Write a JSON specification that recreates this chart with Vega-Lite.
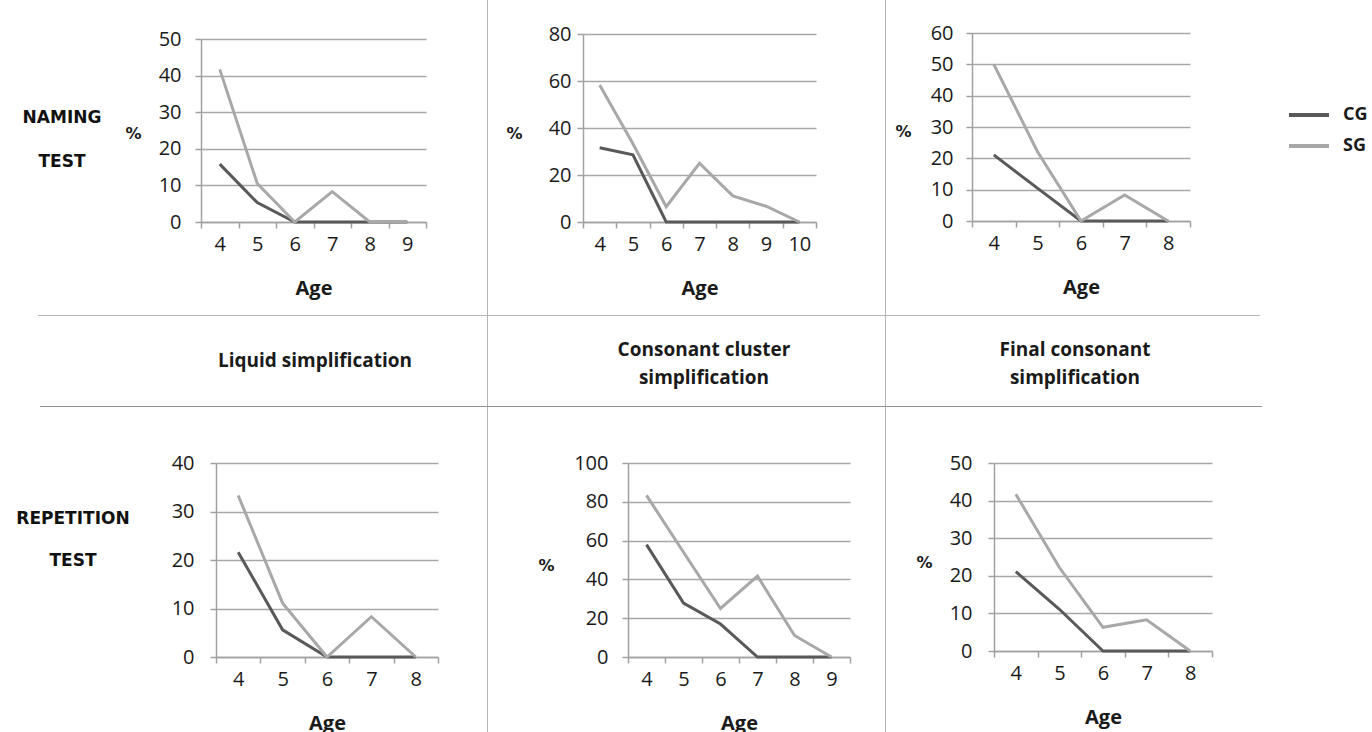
{
  "$schema": "https://vega.github.io/schema/vega-lite/v6.json",
  "padding": 0,
  "background": "white",
  "spacing": 0,
  "config": {
    "view": {"stroke": null},
    "axis": {
      "domainColor": "#a0a0a0", "domainWidth": 1.5,
      "gridColor": "#a8a8a8", "gridWidth": 1.5,
      "tickColor": "#a0a0a0", "tickWidth": 1.5, "tickSize": 6,
      "labelFont": "Open Sans", "labelFontSize": 20, "labelColor": "#1a1a1a",
      "titleFont": "Open Sans", "titleFontWeight": "bold", "titleFontSize": 20, "titleColor": "#1a1a1a"
    },
    "axisX": {"grid": false, "tickBand": "extent", "labelAngle": 0, "labelPadding": 6, "titleY": 66, "titleBaseline": "middle"},
    "axisY": {"grid": true, "titleAngle": 0, "titleFont": "DejaVu Sans", "titleFontSize": 16, "titleAlign": "center", "titleBaseline": "middle"},
    "legend": {
      "orient": "none", "legendX": 1287, "legendY": 93, "title": null,
      "symbolType": "stroke", "symbolSize": 1600, "symbolStrokeWidth": 4,
      "labelFont": "Open Sans", "labelFontWeight": "bold", "labelFontSize": 18, "labelColor": "#1a1a1a",
      "labelOffset": 12, "rowPadding": -9
    }
  },
  "datasets": {
    "pct": [
      {"test": "Naming", "process": "Liquid", "group": "CG", "age": 4, "value": 15.8},
      {"test": "Naming", "process": "Liquid", "group": "CG", "age": 5, "value": 5.3},
      {"test": "Naming", "process": "Liquid", "group": "CG", "age": 6, "value": 0},
      {"test": "Naming", "process": "Liquid", "group": "CG", "age": 7, "value": 0},
      {"test": "Naming", "process": "Liquid", "group": "CG", "age": 8, "value": 0},
      {"test": "Naming", "process": "Liquid", "group": "CG", "age": 9, "value": 0},
      {"test": "Naming", "process": "Liquid", "group": "SG", "age": 4, "value": 41.7},
      {"test": "Naming", "process": "Liquid", "group": "SG", "age": 5, "value": 10.5},
      {"test": "Naming", "process": "Liquid", "group": "SG", "age": 6, "value": 0},
      {"test": "Naming", "process": "Liquid", "group": "SG", "age": 7, "value": 8.3},
      {"test": "Naming", "process": "Liquid", "group": "SG", "age": 8, "value": 0},
      {"test": "Naming", "process": "Liquid", "group": "SG", "age": 9, "value": 0},
      {"test": "Naming", "process": "Cluster", "group": "CG", "age": 4, "value": 31.6},
      {"test": "Naming", "process": "Cluster", "group": "CG", "age": 5, "value": 28.6},
      {"test": "Naming", "process": "Cluster", "group": "CG", "age": 6, "value": 0},
      {"test": "Naming", "process": "Cluster", "group": "CG", "age": 7, "value": 0},
      {"test": "Naming", "process": "Cluster", "group": "CG", "age": 8, "value": 0},
      {"test": "Naming", "process": "Cluster", "group": "CG", "age": 9, "value": 0},
      {"test": "Naming", "process": "Cluster", "group": "CG", "age": 10, "value": 0},
      {"test": "Naming", "process": "Cluster", "group": "SG", "age": 4, "value": 58.3},
      {"test": "Naming", "process": "Cluster", "group": "SG", "age": 5, "value": 33.3},
      {"test": "Naming", "process": "Cluster", "group": "SG", "age": 6, "value": 6.5},
      {"test": "Naming", "process": "Cluster", "group": "SG", "age": 7, "value": 25},
      {"test": "Naming", "process": "Cluster", "group": "SG", "age": 8, "value": 11.1},
      {"test": "Naming", "process": "Cluster", "group": "SG", "age": 9, "value": 6.7},
      {"test": "Naming", "process": "Cluster", "group": "SG", "age": 10, "value": 0},
      {"test": "Naming", "process": "Final", "group": "CG", "age": 4, "value": 21.1},
      {"test": "Naming", "process": "Final", "group": "CG", "age": 5, "value": 10.5},
      {"test": "Naming", "process": "Final", "group": "CG", "age": 6, "value": 0},
      {"test": "Naming", "process": "Final", "group": "CG", "age": 7, "value": 0},
      {"test": "Naming", "process": "Final", "group": "CG", "age": 8, "value": 0},
      {"test": "Naming", "process": "Final", "group": "SG", "age": 4, "value": 50},
      {"test": "Naming", "process": "Final", "group": "SG", "age": 5, "value": 22.2},
      {"test": "Naming", "process": "Final", "group": "SG", "age": 6, "value": 0},
      {"test": "Naming", "process": "Final", "group": "SG", "age": 7, "value": 8.3},
      {"test": "Naming", "process": "Final", "group": "SG", "age": 8, "value": 0},
      {"test": "Repetition", "process": "Liquid", "group": "CG", "age": 4, "value": 21.6},
      {"test": "Repetition", "process": "Liquid", "group": "CG", "age": 5, "value": 5.6},
      {"test": "Repetition", "process": "Liquid", "group": "CG", "age": 6, "value": 0},
      {"test": "Repetition", "process": "Liquid", "group": "CG", "age": 7, "value": 0},
      {"test": "Repetition", "process": "Liquid", "group": "CG", "age": 8, "value": 0},
      {"test": "Repetition", "process": "Liquid", "group": "SG", "age": 4, "value": 33.3},
      {"test": "Repetition", "process": "Liquid", "group": "SG", "age": 5, "value": 11.1},
      {"test": "Repetition", "process": "Liquid", "group": "SG", "age": 6, "value": 0},
      {"test": "Repetition", "process": "Liquid", "group": "SG", "age": 7, "value": 8.3},
      {"test": "Repetition", "process": "Liquid", "group": "SG", "age": 8, "value": 0},
      {"test": "Repetition", "process": "Cluster", "group": "CG", "age": 4, "value": 57.9},
      {"test": "Repetition", "process": "Cluster", "group": "CG", "age": 5, "value": 27.8},
      {"test": "Repetition", "process": "Cluster", "group": "CG", "age": 6, "value": 17},
      {"test": "Repetition", "process": "Cluster", "group": "CG", "age": 7, "value": 0},
      {"test": "Repetition", "process": "Cluster", "group": "CG", "age": 8, "value": 0},
      {"test": "Repetition", "process": "Cluster", "group": "CG", "age": 9, "value": 0},
      {"test": "Repetition", "process": "Cluster", "group": "SG", "age": 4, "value": 83.3},
      {"test": "Repetition", "process": "Cluster", "group": "SG", "age": 5, "value": 54},
      {"test": "Repetition", "process": "Cluster", "group": "SG", "age": 6, "value": 25},
      {"test": "Repetition", "process": "Cluster", "group": "SG", "age": 7, "value": 41.7},
      {"test": "Repetition", "process": "Cluster", "group": "SG", "age": 8, "value": 11.1},
      {"test": "Repetition", "process": "Cluster", "group": "SG", "age": 9, "value": 0},
      {"test": "Repetition", "process": "Final", "group": "CG", "age": 4, "value": 21.1},
      {"test": "Repetition", "process": "Final", "group": "CG", "age": 5, "value": 11.1},
      {"test": "Repetition", "process": "Final", "group": "CG", "age": 6, "value": 0},
      {"test": "Repetition", "process": "Final", "group": "CG", "age": 7, "value": 0},
      {"test": "Repetition", "process": "Final", "group": "CG", "age": 8, "value": 0},
      {"test": "Repetition", "process": "Final", "group": "SG", "age": 4, "value": 41.7},
      {"test": "Repetition", "process": "Final", "group": "SG", "age": 5, "value": 22.2},
      {"test": "Repetition", "process": "Final", "group": "SG", "age": 6, "value": 6.3},
      {"test": "Repetition", "process": "Final", "group": "SG", "age": 7, "value": 8.3},
      {"test": "Repetition", "process": "Final", "group": "SG", "age": 8, "value": 0}
    ]
  },
  "vconcat": [
    {
      "bounds": "flush", "spacing": 0,
      "hconcat": [
        {"width": 124, "height": 236, "data": {"values": [{"label": ["NAMING", "TEST"]}]},
         "mark": {"type": "text", "font": "DejaVu Sans", "fontWeight": "bold", "fontSize": 17, "lineHeight": 44, "baseline": "middle", "color": "#111"},
         "encoding": {"text": {"field": "label"}}},
        {"width": 77, "height": 1, "data": {"values": []}, "mark": "point", "encoding": {}},
        {"width": 225, "height": 222, "data": {"name": "pct"},
         "transform": [{"filter": "datum.test == 'Naming' && datum.process == 'Liquid'"}],
         "mark": {"type": "line", "strokeWidth": 3},
         "encoding": {
           "x": {"field": "age", "type": "ordinal", "bandPosition": 0.5, "scale": {"type": "band", "paddingInner": 0, "paddingOuter": 0}, "axis": {"title": "Age"}},
           "y": {"field": "value", "type": "quantitative", "scale": {"domain": [0, 50], "nice": false, "range": [222, 39]}, "axis": {"values": [0, 10, 20, 30, 40, 50], "title": "%", "titleX": -68, "titleY": 133, "labelPadding": 14}},
           "color": {"field": "group", "type": "nominal", "scale": {"domain": ["CG", "SG"], "range": ["#595959", "#a8a8a8"]}}
         }},
        {"width": 61, "height": 1, "data": {"values": []}, "mark": "point", "encoding": {}},
        {"width": 1, "height": 315, "data": {"values": []}, "mark": "point", "encoding": {}, "view": {"fill": "#b4b4b4"}},
        {"width": 95, "height": 1, "data": {"values": []}, "mark": "point", "encoding": {}},
        {"width": 233, "height": 222, "data": {"name": "pct"},
         "transform": [{"filter": "datum.test == 'Naming' && datum.process == 'Cluster'"}],
         "mark": {"type": "line", "strokeWidth": 3},
         "encoding": {
           "x": {"field": "age", "type": "ordinal", "bandPosition": 0.5, "scale": {"type": "band", "paddingInner": 0, "paddingOuter": 0}, "axis": {"title": "Age"}},
           "y": {"field": "value", "type": "quantitative", "scale": {"domain": [0, 80], "nice": false, "range": [222, 34]}, "axis": {"values": [0, 20, 40, 60, 80], "title": "%", "titleX": -69, "titleY": 133, "labelPadding": 6}},
           "color": {"field": "group", "type": "nominal", "scale": {"domain": ["CG", "SG"], "range": ["#595959", "#a8a8a8"]}}
         }},
        {"width": 69, "height": 1, "data": {"values": []}, "mark": "point", "encoding": {}},
        {"width": 1, "height": 315, "data": {"values": []}, "mark": "point", "encoding": {}, "view": {"fill": "#b4b4b4"}},
        {"width": 86, "height": 1, "data": {"values": []}, "mark": "point", "encoding": {}},
        {"width": 218, "height": 221, "data": {"name": "pct"},
         "transform": [{"filter": "datum.test == 'Naming' && datum.process == 'Final'"}],
         "mark": {"type": "line", "strokeWidth": 3},
         "encoding": {
           "x": {"field": "age", "type": "ordinal", "bandPosition": 0.5, "scale": {"type": "band", "paddingInner": 0, "paddingOuter": 0}, "axis": {"title": "Age"}},
           "y": {"field": "value", "type": "quantitative", "scale": {"domain": [0, 60], "nice": false, "range": [221, 33]}, "axis": {"values": [0, 10, 20, 30, 40, 50, 60], "title": "%", "titleX": -69, "titleY": 131, "labelPadding": 13}},
           "color": {"field": "group", "type": "nominal", "scale": {"domain": ["CG", "SG"], "range": ["#595959", "#a8a8a8"]}}
         }}
      ]
    },
    {
      "bounds": "flush", "spacing": 0,
      "hconcat": [
        {"width": 38, "height": 1, "data": {"values": []}, "mark": "point", "encoding": {}},
        {"width": 1222, "height": 1, "data": {"values": []}, "mark": "point", "encoding": {}, "view": {"fill": "#b4b4b4"}}
      ]
    },
    {
      "bounds": "flush", "spacing": 0,
      "hconcat": [
        {"width": 201, "height": 1, "data": {"values": []}, "mark": "point", "encoding": {}},
        {"width": 228, "height": 90, "data": {"values": [{"label": "Liquid simplification"}]},
         "mark": {"type": "text", "font": "Open Sans", "fontWeight": "bold", "fontSize": 19, "baseline": "middle", "color": "#1a1a1a"},
         "encoding": {"text": {"field": "label"}}},
        {"width": 58, "height": 1, "data": {"values": []}, "mark": "point", "encoding": {}},
        {"width": 1, "height": 90, "data": {"values": []}, "mark": "point", "encoding": {}, "view": {"fill": "#b4b4b4"}},
        {"width": 95, "height": 1, "data": {"values": []}, "mark": "point", "encoding": {}},
        {"width": 242, "height": 90, "data": {"values": [{"label": ["Consonant cluster", "simplification"]}]},
         "mark": {"type": "text", "font": "Open Sans", "fontWeight": "bold", "fontSize": 19, "lineHeight": 28, "baseline": "middle", "dy": -11, "color": "#1a1a1a"},
         "encoding": {"text": {"field": "label"}}},
        {"width": 60, "height": 1, "data": {"values": []}, "mark": "point", "encoding": {}},
        {"width": 1, "height": 90, "data": {"values": []}, "mark": "point", "encoding": {}, "view": {"fill": "#b4b4b4"}},
        {"width": 69, "height": 1, "data": {"values": []}, "mark": "point", "encoding": {}},
        {"width": 240, "height": 90, "data": {"values": [{"label": ["Final consonant", "simplification"]}]},
         "mark": {"type": "text", "font": "Open Sans", "fontWeight": "bold", "fontSize": 19, "lineHeight": 28, "baseline": "middle", "dy": -11, "color": "#1a1a1a"},
         "encoding": {"text": {"field": "label"}}}
      ]
    },
    {
      "bounds": "flush", "spacing": 0,
      "hconcat": [
        {"width": 40, "height": 1, "data": {"values": []}, "mark": "point", "encoding": {}},
        {"width": 1222, "height": 1, "data": {"values": []}, "mark": "point", "encoding": {}, "view": {"fill": "#8f8f8f"}}
      ]
    },
    {
      "bounds": "flush", "spacing": 0,
      "hconcat": [
        {"width": 146, "height": 224, "data": {"values": [{"label": ["REPETITION", "TEST"]}]},
         "mark": {"type": "text", "font": "DejaVu Sans", "fontWeight": "bold", "fontSize": 17, "lineHeight": 42, "baseline": "middle", "color": "#111"},
         "encoding": {"text": {"field": "label"}}},
        {"width": 70, "height": 1, "data": {"values": []}, "mark": "point", "encoding": {}},
        {"width": 222, "height": 250, "data": {"name": "pct"},
         "transform": [{"filter": "datum.test == 'Repetition' && datum.process == 'Liquid'"}],
         "mark": {"type": "line", "strokeWidth": 3},
         "encoding": {
           "x": {"field": "age", "type": "ordinal", "bandPosition": 0.5, "scale": {"type": "band", "paddingInner": 0, "paddingOuter": 0}, "axis": {"title": "Age"}},
           "y": {"field": "value", "type": "quantitative", "scale": {"domain": [0, 40], "nice": false, "range": [250, 56]}, "axis": {"values": [0, 10, 20, 30, 40], "title": null, "labelPadding": 16}},
           "color": {"field": "group", "type": "nominal", "scale": {"domain": ["CG", "SG"], "range": ["#595959", "#a8a8a8"]}}
         }},
        {"width": 49, "height": 1, "data": {"values": []}, "mark": "point", "encoding": {}},
        {"width": 1, "height": 325, "data": {"values": []}, "mark": "point", "encoding": {}, "view": {"fill": "#b4b4b4"}},
        {"width": 140, "height": 1, "data": {"values": []}, "mark": "point", "encoding": {}},
        {"width": 222, "height": 250, "data": {"name": "pct"},
         "transform": [{"filter": "datum.test == 'Repetition' && datum.process == 'Cluster'"}],
         "mark": {"type": "line", "strokeWidth": 3},
         "encoding": {
           "x": {"field": "age", "type": "ordinal", "bandPosition": 0.5, "scale": {"type": "band", "paddingInner": 0, "paddingOuter": 0}, "axis": {"title": "Age"}},
           "y": {"field": "value", "type": "quantitative", "scale": {"domain": [0, 100], "nice": false, "range": [250, 56]}, "axis": {"values": [0, 20, 40, 60, 80, 100], "title": "%", "titleX": -82, "titleY": 158, "labelPadding": 14}},
           "color": {"field": "group", "type": "nominal", "scale": {"domain": ["CG", "SG"], "range": ["#595959", "#a8a8a8"]}}
         }},
        {"width": 35, "height": 1, "data": {"values": []}, "mark": "point", "encoding": {}},
        {"width": 1, "height": 325, "data": {"values": []}, "mark": "point", "encoding": {}, "view": {"fill": "#b4b4b4"}},
        {"width": 108, "height": 1, "data": {"values": []}, "mark": "point", "encoding": {}},
        {"width": 218, "height": 244, "data": {"name": "pct"},
         "transform": [{"filter": "datum.test == 'Repetition' && datum.process == 'Final'"}],
         "mark": {"type": "line", "strokeWidth": 3},
         "encoding": {
           "x": {"field": "age", "type": "ordinal", "bandPosition": 0.5, "scale": {"type": "band", "paddingInner": 0, "paddingOuter": 0}, "axis": {"title": "Age"}},
           "y": {"field": "value", "type": "quantitative", "scale": {"domain": [0, 50], "nice": false, "range": [244, 56]}, "axis": {"values": [0, 10, 20, 30, 40, 50], "title": "%", "titleX": -70, "titleY": 155, "labelPadding": 16}},
           "color": {"field": "group", "type": "nominal", "scale": {"domain": ["CG", "SG"], "range": ["#595959", "#a8a8a8"]}}
         }}
      ]
    }
  ]
}
